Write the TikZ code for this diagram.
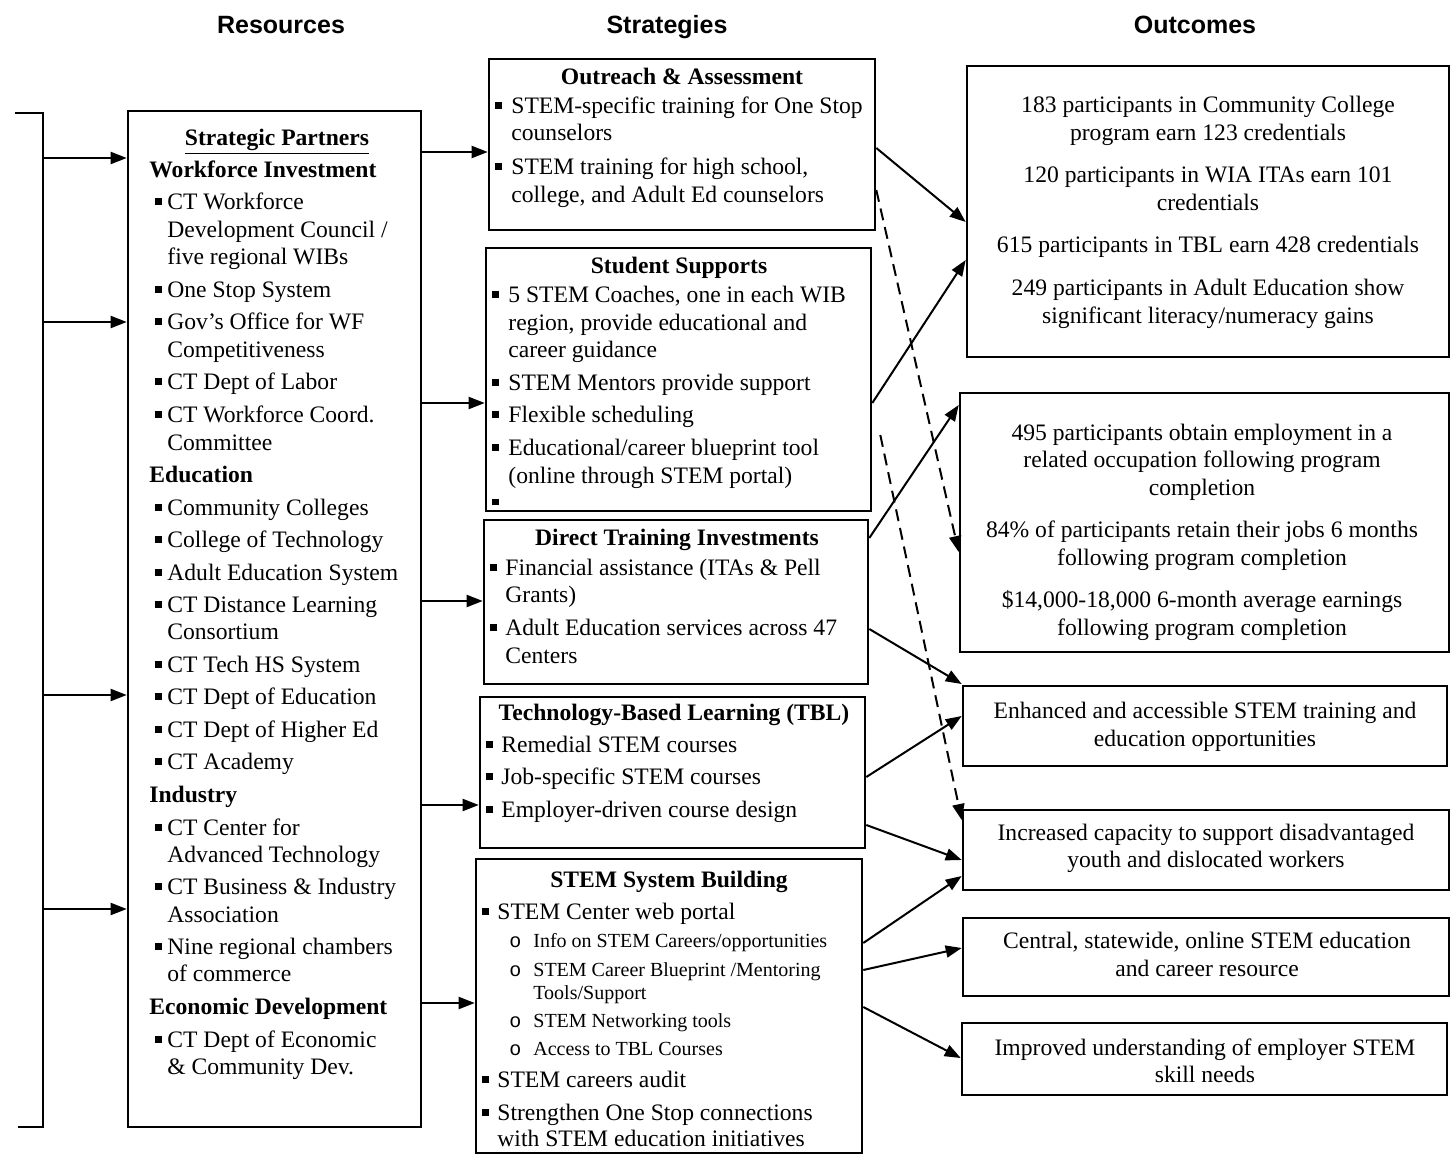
\documentclass[tikz,border=0pt]{standalone}
\usepackage{fontspec}
\setmainfont{Liberation Serif}
\setsansfont{Liberation Sans}
\newfontfamily\monofam{Liberation Mono}
\usetikzlibrary{arrows.meta,fit}
\newcounter{tlc}
\newcommand{\mysq}{\rule[2.3pt]{3.3pt}{3.4pt}}
\newcommand{\mytl}[3]{\stepcounter{tlc}\node[txt,anchor=base west] (t\arabic{tlc}) at (#1,#2) {#3};}
\newcommand{\mybl}[4]{\stepcounter{tlc}\node[txt,anchor=base west] (b\arabic{tlc}) at (#1,#3) {\mysq};\node[txt,anchor=base west] (t\arabic{tlc}) at (#2,#3) {#4};}
\newcommand{\myct}[3]{\stepcounter{tlc}\node[txt,anchor=base] (t\arabic{tlc}) at (#1,#2) {#3};}
\newcommand{\mysub}[2]{\stepcounter{tlc}\node[stxt,anchor=base west] (o\arabic{tlc}) at (509,#1) {\monofam o};\node[stxt,anchor=base west] (t\arabic{tlc}) at (533,#1) {#2};}
\newcommand{\mysubc}[2]{\stepcounter{tlc}\node[stxt,anchor=base west] (t\arabic{tlc}) at (533,#1) {#2};}
\tikzset{
  txt/.style={inner sep=0pt, font=\fontsize{11.8}{13.75}\selectfont},
  stxt/.style={inner sep=0pt, font=\fontsize{10}{11.5}\selectfont},
  hdr/.style={inner sep=0pt, font=\sffamily\bfseries\fontsize{12.5}{15}\selectfont},
  box/.style={draw, line width=1.3pt, inner sep=0pt},
  arr/.style={line width=1pt, -{Triangle[length=8pt,width=6pt]}},
  darr/.style={arr, dash pattern=on 6pt off 3.5pt},
  brk/.style={line width=1.2pt}
}
\begin{document}
\begin{tikzpicture}[x=0.5pt, y=-0.5pt]
\useasboundingbox (0,0) rectangle (1451,1155);
\fill[white] (0,0) rectangle (1451,1155);

% column headers
\node[hdr, anchor=base] (hres) at (281,34) {Resources};
\node[hdr, anchor=base] (hstr) at (667,34) {Strategies};
\node[hdr, anchor=base] (hout) at (1195,34) {Outcomes};

% boxes
\node[box, fit={(128,111) (421,1127)}] (res) {};
\node[box, fit={(489,59) (875,230)}] (oa) {};
\node[box, fit={(486,248) (871,511)}] (ss) {};
\node[box, fit={(484,520) (868,684)}] (dt) {};
\node[box, fit={(480,697) (865,848)}] (tbl) {};
\node[box, fit={(476,859) (862,1153)}] (ssb) {};
\node[box, fit={(967,66) (1449,357)}] (outA) {};
\node[box, fit={(960,393) (1449,652)}] (outB) {};
\node[box, fit={(963,686) (1447,766)}] (outC) {};
\node[box, fit={(963,810) (1449,890)}] (outD) {};
\node[box, fit={(963,918) (1449,996)}] (outE) {};
\node[box, fit={(962,1023) (1447,1095)}] (outF) {};

% left bracket
\coordinate (bt) at (15,113);
\coordinate (bc1) at (43,113);
\coordinate (bc2) at (43,1127);
\coordinate (bb) at (18,1127);
\draw[brk] (bt) -- (bc1) -- (bc2) -- (bb);
\foreach \yy in {158,322,695,909}
  \draw[arr] (bc1 |- 0,\yy) -- (res.west |- 0,\yy);

% Resources text
\myct{277}{145.5}{\textbf{\underline{Strategic Partners}}}
\mytl{149}{177.5}{\textbf{Workforce Investment}}
\mybl{155}{167}{209.5}{CT Workforce}
\mytl{167}{237.5}{Development Council /}
\mytl{167}{264.5}{five regional WIBs}
\mybl{155}{167}{297.5}{One Stop System}
\mybl{155}{167}{329.5}{Gov’s Office for WF}
\mytl{167}{357.5}{Competitiveness}
\mybl{155}{167}{389.5}{CT Dept of Labor}
\mybl{155}{167}{422.5}{CT Workforce Coord.}
\mytl{167}{450.5}{Committee}
\mytl{149}{482.5}{\textbf{Education}}
\mybl{155}{167}{515.5}{Community Colleges}
\mybl{155}{167}{547.5}{College of Technology}
\mybl{155}{167}{580.5}{Adult Education System}
\mybl{155}{167}{612.5}{CT Distance Learning}
\mytl{167}{639.5}{Consortium}
\mybl{155}{167}{672.5}{CT Tech HS System}
\mybl{155}{167}{704.5}{CT Dept of Education}
\mybl{155}{167}{737.5}{CT Dept of Higher Ed}
\mybl{155}{167}{769.5}{CT Academy}
\mytl{149}{802.5}{\textbf{Industry}}
\mybl{155}{167}{835.5}{CT Center for}
\mytl{167}{862.5}{Advanced Technology}
\mybl{155}{167}{894.5}{CT Business \& Industry}
\mytl{167}{922.5}{Association}
\mybl{155}{167}{954.5}{Nine regional chambers}
\mytl{167}{981.5}{of commerce}
\mytl{149}{1014.5}{\textbf{Economic Development}}
\mybl{155}{167}{1047.5}{CT Dept of Economic}
\mytl{167}{1074.5}{\& Community Dev.}

% Outreach & Assessment
\myct{682}{84.5}{\textbf{Outreach \& Assessment}}
\mybl{495}{511}{113.5}{STEM-specific training for One Stop}
\mytl{511}{140.5}{counselors}
\mybl{495}{511}{174.5}{STEM training for high school,}
\mytl{511}{202.5}{college, and Adult Ed counselors}

% Student Supports
\myct{679}{273.5}{\textbf{Student Supports}}
\mybl{492}{508}{302.5}{5 STEM Coaches, one in each WIB}
\mytl{508}{330.5}{region, provide educational and}
\mytl{508}{357.5}{career guidance}
\mybl{492}{508}{390.5}{STEM Mentors provide support}
\mybl{492}{508}{422.5}{Flexible scheduling}
\mybl{492}{508}{455.5}{Educational/career blueprint tool}
\mytl{508}{483.5}{(online through STEM portal)}
\stepcounter{tlc}\node[txt,anchor=base west] (b\arabic{tlc}) at (492,510) {\mysq};

% Direct Training Investments
\myct{677}{545.5}{\textbf{Direct Training Investments}}
\mybl{490}{505}{575.5}{Financial assistance (ITAs \& Pell}
\mytl{505}{602.5}{Grants)}
\mybl{490}{505}{635.5}{Adult Education services across 47}
\mytl{505}{663.5}{Centers}

% TBL
\myct{674}{720.5}{\textbf{Technology-Based Learning (TBL)}}
\mybl{486}{501}{752.5}{Remedial STEM courses}
\mybl{486}{501}{784.5}{Job-specific STEM courses}
\mybl{486}{501}{817.5}{Employer-driven course design}

% STEM System Building
\myct{669}{887.5}{\textbf{STEM System Building}}
\mybl{482}{497}{919.5}{STEM Center web portal}
\mysub{947.5}{Info on STEM Careers/opportunities}
\mysub{976.5}{STEM Career Blueprint /Mentoring}
\mysubc{999.5}{Tools/Support}
\mysub{1027.5}{STEM Networking tools}
\mysub{1055.5}{Access to TBL Courses}
\mybl{482}{497}{1087.5}{STEM careers audit}
\mybl{482}{497}{1120.5}{Strengthen One Stop connections}
\mytl{497}{1146.5}{with STEM education initiatives}

% Outcomes
\myct{1208}{112.5}{183 participants in Community College}
\myct{1208}{140.5}{program earn 123 credentials}
\myct{1208}{182.5}{120 participants in WIA ITAs earn 101}
\myct{1208}{210.5}{credentials}
\myct{1208}{252.5}{615 participants in TBL earn 428 credentials}
\myct{1208}{295.5}{249 participants in Adult Education show}
\myct{1208}{323.5}{significant literacy/numeracy gains}

\myct{1202}{440.5}{495 participants obtain employment in a}
\myct{1202}{467.5}{related occupation following program}
\myct{1202}{495.5}{completion}
\myct{1202}{537.5}{84\% of participants retain their jobs 6 months}
\myct{1202}{565.5}{following program completion}
\myct{1202}{607.5}{\$14,000-18,000 6-month average earnings}
\myct{1202}{635.5}{following program completion}

\myct{1205}{718.5}{Enhanced and accessible STEM training and}
\myct{1205}{746.5}{education opportunities}
\myct{1206}{840.5}{Increased capacity to support disadvantaged}
\myct{1206}{867.5}{youth and dislocated workers}
\myct{1207}{948.5}{Central, statewide, online STEM education}
\myct{1207}{976.5}{and career resource}
\myct{1205}{1055.5}{Improved understanding of employer STEM}
\myct{1205}{1082.5}{skill needs}

% Resources -> Strategies
\draw[arr] (res.east |- 0,152) -- (oa.west |- 0,152);
\draw[arr] (res.east |- 0,403) -- (ss.west |- 0,403);
\draw[arr] (res.east |- 0,601) -- (dt.west |- 0,601);
\draw[arr] (res.east |- 0,805) -- (tbl.west |- 0,805);
\draw[arr] (res.east |- 0,1003) -- (ssb.west |- 0,1003);

% Strategies -> Outcomes
\draw[arr] (oa.east |- 0,148) -- (outA.west |- 0,222);
\draw[arr] (ss.east |- 0,403) -- (outA.west |- 0,260);
\draw[arr] (dt.east |- 0,538) -- (outB.west |- 0,405);
\draw[arr] (dt.east |- 0,629) -- (outC.west |- 0,684);
\draw[arr] (tbl.east |- 0,777) -- (outC.west |- 0,716);
\draw[arr] (tbl.east |- 0,825) -- (outD.west |- 0,860);
\draw[arr] (ssb.east |- 0,943) -- (outD.west |- 0,876);
\draw[arr] (ssb.east |- 0,970) -- (outE.west |- 0,948);
\draw[arr] (ssb.east |- 0,1007) -- (outF.west |- 0,1058);

% dashed
\draw[darr] (oa.east |- 0,190) -- (outB.west |- 0,552);
\draw[darr] ([xshift=4pt]ss.east |- 0,435) -- (outD.west |- 0,820);
\end{tikzpicture}
\end{document}
